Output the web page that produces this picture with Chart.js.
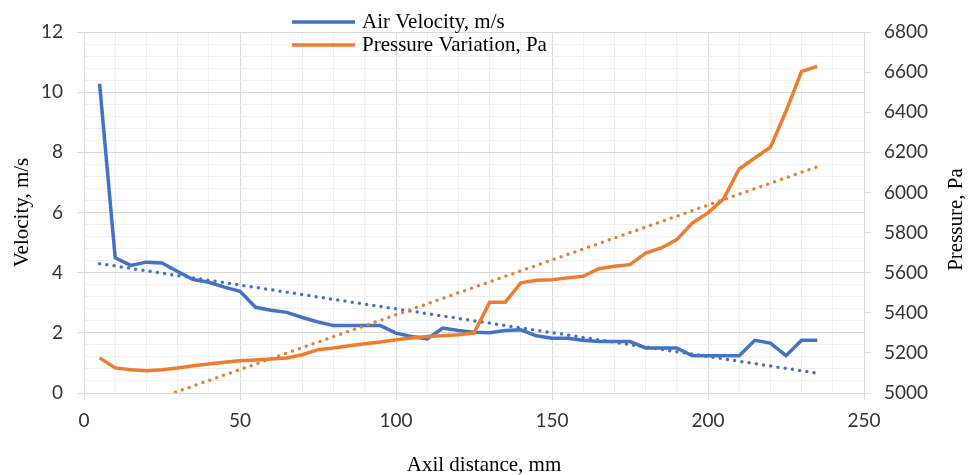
<!DOCTYPE html>
<html>
<head>
<meta charset="utf-8">
<script src="https://cdn.jsdelivr.net/npm/chart.js@4.4.1/dist/chart.umd.min.js"></script>
<style>
  html, body { margin: 0; padding: 0; background: #fff; }
  #wrap { width: 968px; height: 475px; position: relative; }
</style>
</head>
<body>
<div id="wrap"><canvas id="chart"></canvas></div>
<script>
// axial distance, mm
const distance = [5, 10, 15, 20, 25, 30, 35, 40, 45, 50,
  55, 60, 65, 70, 75, 80, 85, 90, 95, 100,
  105, 110, 115, 120, 125, 130, 135, 140, 145, 150,
  155, 160, 165, 170, 175, 180, 185, 190, 195, 200,
  205, 210, 215, 220, 225, 230, 235];

// air velocity, m/s
const velocity = [10.28, 4.49, 4.24, 4.35, 4.32, 4.04, 3.77, 3.68, 3.52, 3.38,
  2.85, 2.75, 2.68, 2.51, 2.36, 2.24, 2.24, 2.24, 2.24, 1.99,
  1.88, 1.80, 2.16, 2.08, 2.02, 2.00, 2.08, 2.10, 1.90, 1.82,
  1.82, 1.75, 1.71, 1.71, 1.71, 1.50, 1.50, 1.50, 1.24, 1.24,
  1.24, 1.24, 1.75, 1.66, 1.24, 1.75, 1.75];

// pressure variation, Pa
const pressure = [5175, 5125, 5116, 5111, 5116, 5125, 5136, 5145, 5153, 5161,
  5165, 5170, 5175, 5191, 5216, 5224, 5236, 5246, 5254, 5266,
  5274, 5282, 5286, 5291, 5299, 5452, 5452, 5549, 5562, 5565,
  5574, 5582, 5620, 5632, 5640, 5698, 5723, 5765, 5848, 5898,
  5968, 6117, 6172, 6225, 6405, 6604, 6629];

// linear trend lines (end points)
const trendDistance = [5, 235];
const velocityTrend = [4.30, 0.66];
const pressureTrend = [4871, 6128];

const xTicks = [0, 50, 100, 150, 200, 250];
const velocityTicks = [0, 2, 4, 6, 8, 10, 12];
const pressureTicks = [5000, 5200, 5400, 5600, 5800, 6000, 6200, 6400, 6600, 6800];

const BLUE = '#4472C4';
const ORANGE = '#ED7D31';
const SERIF = '"Liberation Serif", "Times New Roman", serif';
const SANS = 'Lato, "Open Sans", sans-serif';
const MAJOR = '#d9d9d9';
const MINOR = '#efefef';

function points(xs, ys) {
  return xs.map((x, i) => ({ x, y: ys[i] }));
}

function isIn(list, value) {
  return list.some((t) => Math.abs(t - value) < 1e-6);
}

const legendRows = [
  { text: 'Air Velocity, m/s', color: BLUE, y: 22 },
  { text: 'Pressure Variation, Pa', color: ORANGE, y: 45 },
];

const chartText = {
  id: 'chartText',
  afterDraw(chart) {
    const ctx = chart.ctx;
    const area = chart.chartArea;
    ctx.save();
    ctx.font = '21px ' + SERIF;
    ctx.fillStyle = '#000';
    ctx.textBaseline = 'middle';

    legendRows.forEach((row) => {
      ctx.strokeStyle = row.color;
      ctx.lineWidth = 3.5;
      ctx.beginPath();
      ctx.moveTo(292, row.y);
      ctx.lineTo(355, row.y);
      ctx.stroke();
      ctx.textAlign = 'left';
      ctx.fillText(row.text, 362, row.y);
    });

    ctx.textAlign = 'center';
    ctx.fillText('Axil distance, mm', 484, 465);

    const midY = (area.top + area.bottom) / 2;
    ctx.save();
    ctx.translate(22, midY);
    ctx.rotate(-Math.PI / 2);
    ctx.fillText('Velocity, m/s', 0, 0);
    ctx.restore();

    ctx.save();
    ctx.translate(956, midY + 7);
    ctx.rotate(-Math.PI / 2);
    ctx.fillText('Pressure, Pa', 0, 0);
    ctx.restore();

    ctx.restore();
  },
};

new Chart(document.getElementById('chart'), {
  type: 'line',
  data: {
    datasets: [
      {
        label: 'Pressure Variation, Pa',
        data: points(distance, pressure),
        yAxisID: 'y2',
        borderColor: ORANGE,
        borderWidth: 3.5,
        pointRadius: 0,
        tension: 0,
        order: 1,
      },
      {
        label: 'Pressure trend',
        data: points(trendDistance, pressureTrend),
        yAxisID: 'y2',
        borderColor: ORANGE,
        borderWidth: 3.5,
        borderDash: [0, 7.3],
        borderCapStyle: 'round',
        pointRadius: 0,
        order: 2,
      },
      {
        label: 'Air Velocity, m/s',
        data: points(distance, velocity),
        yAxisID: 'y',
        borderColor: BLUE,
        borderWidth: 3.5,
        pointRadius: 0,
        tension: 0,
        order: 3,
      },
      {
        label: 'Velocity trend',
        data: points(trendDistance, velocityTrend),
        yAxisID: 'y',
        borderColor: BLUE,
        borderWidth: 3.5,
        borderDash: [0, 7.3],
        borderCapStyle: 'round',
        pointRadius: 0,
        order: 4,
      },
    ],
  },
  options: {
    responsive: true,
    maintainAspectRatio: false,
    animation: false,
    layout: { padding: { top: 32, left: 0, right: 0, bottom: 0 } },
    plugins: {
      legend: { display: false },
      tooltip: { enabled: false },
    },
    scales: {
      x: {
        type: 'linear',
        min: 0,
        max: 250,
        afterFit: (scale) => { scale.height = 82; },
        ticks: {
          stepSize: 10,
          autoSkip: false,
          maxRotation: 0,
          padding: 9,
          color: '#333',
          font: { family: SANS, size: 19 },
          callback: (v) => (isIn(xTicks, v) ? String(v) : ''),
        },
        grid: {
          color: (c) => (isIn(xTicks, c.tick.value) ? MAJOR : MINOR),
          tickColor: (c) => (isIn(xTicks, c.tick.value) ? MAJOR : 'rgba(0,0,0,0)'),
          tickLength: 7,
        },
        border: { color: MAJOR },
      },
      y: {
        position: 'left',
        min: 0,
        max: 12,
        afterFit: (scale) => { scale.width = 84; },
        ticks: {
          stepSize: 0.4,
          autoSkip: false,
          padding: 14,
          color: '#333',
          font: { family: SANS, size: 19 },
          callback: (v) => (isIn(velocityTicks, v) ? String(Math.round(v)) : ''),
        },
        grid: {
          color: (c) => (isIn(velocityTicks, c.tick.value) ? MAJOR : MINOR),
          tickColor: (c) => (isIn(velocityTicks, c.tick.value) ? MAJOR : 'rgba(0,0,0,0)'),
          tickLength: 7,
        },
        border: { color: MAJOR },
      },
      y2: {
        position: 'right',
        min: 5000,
        max: 6800,
        afterFit: (scale) => { scale.width = 104; },
        ticks: {
          stepSize: 200,
          autoSkip: false,
          padding: 13,
          color: '#333',
          font: { family: SANS, size: 19 },
          callback: (v) => (isIn(pressureTicks, v) ? String(v) : ''),
        },
        grid: {
          drawOnChartArea: false,
          tickColor: MAJOR,
          tickLength: 7,
        },
        border: { color: MAJOR },
      },
    },
  },
  plugins: [chartText],
});
</script>
</body>
</html>
